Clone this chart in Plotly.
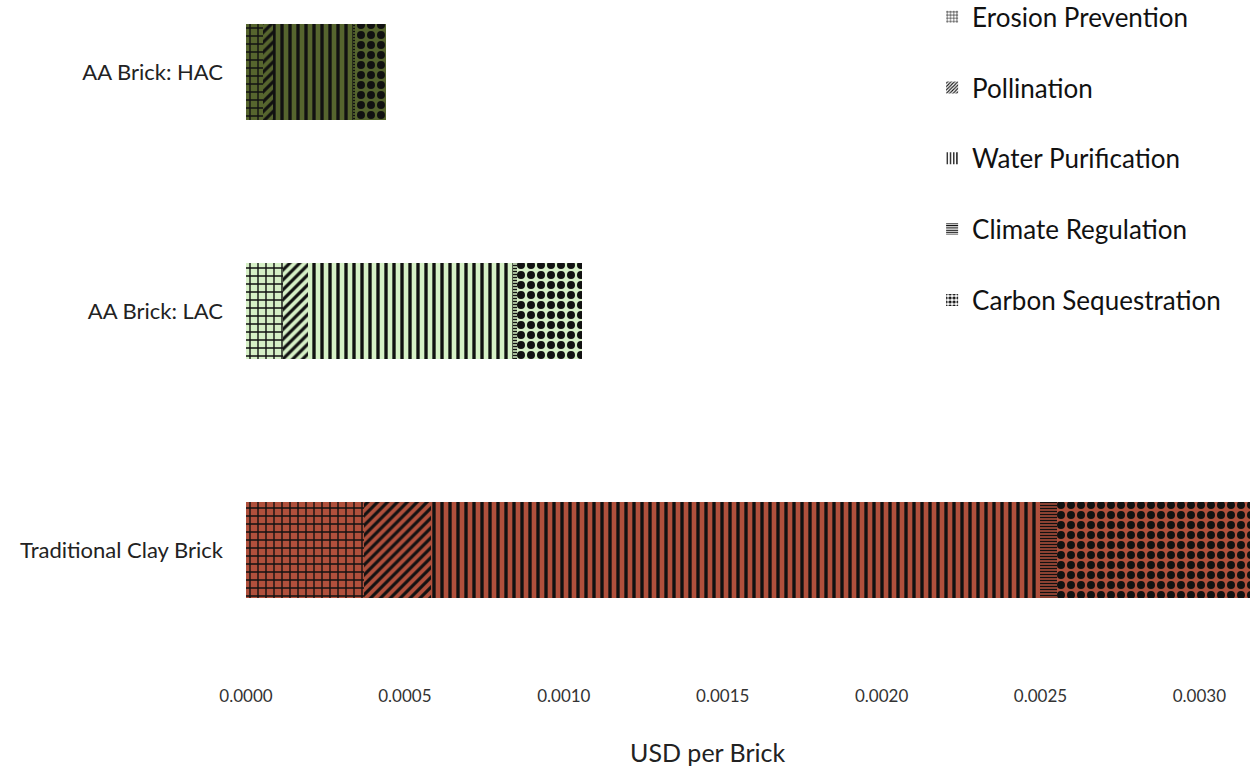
import plotly.graph_objects as go

# Ecosystem service costs per brick (USD)
categories = ["Traditional Clay Brick", "AA Brick: LAC", "AA Brick: HAC"]
bar_colors = ["#b0503c", "#d6f0c6", "#56652e"]

services = ["Erosion Prevention", "Pollination", "Water Purification",
            "Climate Regulation", "Carbon Sequestration"]
erosion = [0.000371, 0.000117, 0.0000535]
pollination = [0.000211, 0.000078, 0.0000315]
water = [0.001916, 0.000645, 0.000252]
climate = [0.000054, 0.000013, 0.000006]
carbon = [0.000607, 0.000204, 0.0000975]
series = [erosion, pollination, water, climate, carbon]

tick_vals = [0.0, 0.0005, 0.0010, 0.0015, 0.0020, 0.0025, 0.0030]
tick_text = ["0.0000", "0.0005", "0.0010", "0.0015", "0.0020", "0.0025", "0.0030"]

# Fill pattern per service: shape, tile size, solidity
patterns = [("+", 8, 0.32), ("/", 7, 0.45), ("|", 8, 0.42),
            ("-", 3, 0.5), (".", 10, 0.5)]

FONT = "Lato"
INK = "#111111"
fig = go.Figure()

# One trace per brick and service so each segment keeps a scalar colour
# (black pattern drawn over the brick colour)
for name, vals, (shape, size, sol) in zip(services, series, patterns):
    for cat, val, col in zip(categories, vals, bar_colors):
        fig.add_trace(go.Bar(
            y=[cat], x=[val], orientation="h", name=name,
            legendgroup=name, showlegend=False, width=0.4,
            marker=dict(color=col, line=dict(width=0),
                        pattern=dict(shape=shape, size=size, solidity=sol,
                                     bgcolor=col, fgcolor=INK, fgopacity=1,
                                     fillmode="replace")),
        ))

# Legend swatches: black pattern on white, kept on a hidden axis pair
for name, (shape, size, sol) in zip(services, patterns):
    fig.add_trace(go.Bar(
        y=[None], x=[None], orientation="h", name=name,
        xaxis="x2", yaxis="y2",
        legendgroup=name, showlegend=True,
        marker=dict(color="white", line=dict(width=0),
                    pattern=dict(shape=shape, size=max(3, size // 2), solidity=sol,
                                 bgcolor="white", fgcolor=INK, fgopacity=1,
                                 fillmode="replace")),
    ))

fig.add_annotation(text="USD per Brick", xref="paper", yref="paper",
                   x=0.457, y=-0.1224, xanchor="center", yanchor="middle",
                   showarrow=False, font=dict(size=25, family=FONT, color="#222222"))

fig.update_layout(
    width=1260, height=767,
    barmode="stack",
    paper_bgcolor="white", plot_bgcolor="white",
    margin=dict(l=246, r=5, t=0, b=97, autoexpand=False),
    font=dict(family=FONT, color="#222222"),
    legend=dict(x=0.680, xanchor="left", y=1.010, yanchor="top",
                traceorder="grouped", tracegroupgap=34,
                font=dict(size=26, family=FONT, color=INK),
                itemwidth=30, bgcolor="rgba(0,0,0,0)"),
    xaxis=dict(range=[0, 0.003175], tickvals=tick_vals, ticktext=tick_text,
               showgrid=False, zeroline=False, showline=False,
               ticklabelstandoff=14,
               tickfont=dict(size=17, color="#333333")),
    yaxis=dict(categoryorder="array", categoryarray=categories,
               range=[-0.502, 2.301], showgrid=False, zeroline=False,
               showline=False, ticks="", ticklabelstandoff=22,
               tickfont=dict(size=22, color="#222222")),
    xaxis2=dict(visible=False, overlaying="x", range=[0, 1]),
    yaxis2=dict(visible=False, overlaying="y", range=[0, 1]),
)

fig.write_html("out.html")
